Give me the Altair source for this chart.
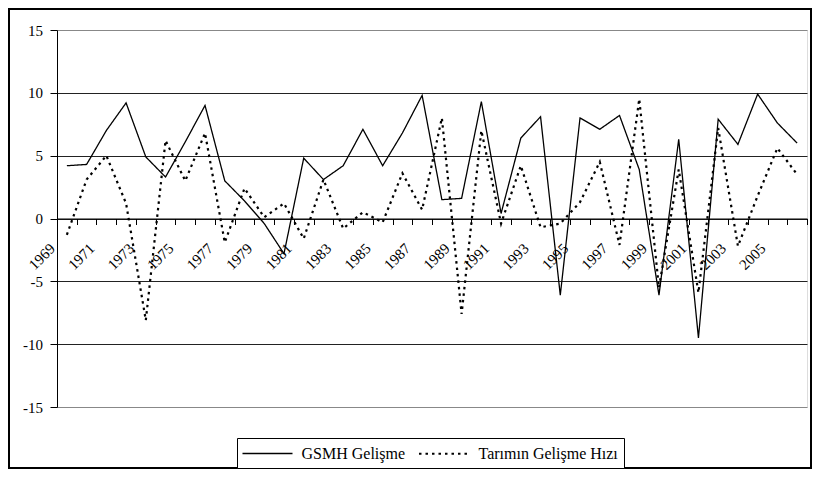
import altair as alt
import pandas as pd

years = list(range(1969, 2007))
gsmh = [4.2, 4.3, 7.0, 9.2, 4.9, 3.3, 6.1, 9.0, 3.0, 1.4, -0.4, -2.8, 4.8, 3.1,
        4.2, 7.1, 4.2, 6.8, 9.8, 1.5, 1.6, 9.3, 0.4, 6.4, 8.1, -6.1, 8.0, 7.1,
        8.2, 3.9, -6.1, 6.3, -9.5, 7.9, 5.9, 9.9, 7.6, 6.0]
tarim = [-1.3, 3.1, 5.0, 1.2, -8.1, 6.2, 3.0, 6.8, -1.9, 2.4, 0.1, 1.2, -1.6, 3.1,
         -0.8, 0.5, -0.3, 3.6, 0.7, 8.0, -7.6, 7.0, -0.4, 4.2, -0.7, -0.4, 1.3, 4.5,
         -2.1, 9.5, -5.5, 3.9, -5.9, 7.2, -2.2, 1.8, 5.6, 3.5]
series_names = ["GSMH Gelişme", "Tarımın Gelişme Hızı"]
y_ticks = [-15, -10, -5, 0, 5, 10, 15]

df = pd.DataFrame({
    "year": years * 2,
    "value": gsmh + tarim,
    "series": [series_names[0]] * len(years) + [series_names[1]] * len(years),
})

W, H = 750, 377
FONT = "Liberation Serif, Times New Roman, serif"
boundaries = [y - 0.5 for y in years] + [years[-1] + 0.5]

legend = alt.Legend(
    title=None, orient="none", legendX=180, legendY=408, direction="horizontal",
    labelFont=FONT, labelFontSize=16, labelColor="black",
    symbolType="M-3,0H3", symbolSize=278, symbolOffset=15.5, labelOffset=25,
    symbolStrokeColor="black", strokeColor="black", fillColor="white",
    padding=6, columnPadding=8, labelLimit=300,
)

x = alt.X(
    "year:Q",
    scale=alt.Scale(domain=[boundaries[0], boundaries[-1]], nice=False, zero=False),
    axis=alt.Axis(
        values=boundaries, title=None, grid=False, offset=-H / 2,
        tickSize=6, tickColor="black", domainColor="black",
        labelAngle=-45, labelAlign="right", labelBaseline="middle",
        labelExpr=f"((datum.value + 0.5) % 2 == 1 && datum.value + 0.5 <= {years[-1]}) ? '' + (datum.value + 0.5) : ''",
        labelOffset=-5, labelPadding=21, labelFont=FONT, labelFontSize=15,
        labelColor="black", labelOverlap=False, labelBound=False, labelFlush=False,
    ),
)
y = alt.Y(
    "value:Q",
    scale=alt.Scale(domain=[y_ticks[0], y_ticks[-1]], nice=False),
    axis=alt.Axis(
        values=y_ticks, title=None, grid=True,
        gridColor={"condition": {"test": "abs(datum.value) == 15", "value": "#888888"}, "value": "#222222"},
        tickSize=7, tickColor="black", domainColor="black", labelPadding=7.5,
        labelExpr="'' + datum.value",
        labelFont=FONT, labelFontSize=15, labelColor="black",
    ),
)

lines = alt.Chart(df).mark_line(color="black", strokeCap="butt").encode(
    x=x, y=y,
    strokeDash=alt.StrokeDash("series:N", scale=alt.Scale(domain=series_names, range=[[1, 0], [2.5, 4]]), legend=legend),
    strokeWidth=alt.StrokeWidth("series:N", scale=alt.Scale(domain=series_names, range=[1.3, 2.2]), legend=legend),
)

frame = alt.Chart(pd.DataFrame({"a": [0]})).mark_rect(
    fillOpacity=0, stroke="black", strokeWidth=2
).encode(x=alt.value(-48), x2=alt.value(754), y=alt.value(-21), y2=alt.value(438))

chart = alt.layer(frame, lines).properties(
    width=W, height=H,
    padding={"left": 49, "top": 22, "right": 5, "bottom": 62},
    autosize=alt.AutoSizeParams(type="none"),
    background="white",
).configure_view(stroke="#888888", strokeWidth=1).configure(font=FONT)

chart.save("out.html", embed_options={"renderer": "svg", "actions": False})
